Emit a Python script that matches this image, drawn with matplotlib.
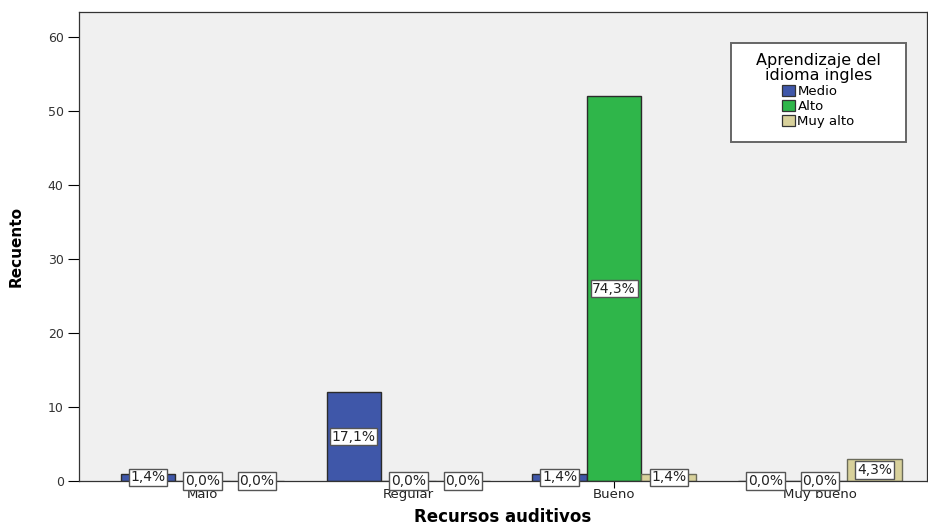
import matplotlib
matplotlib.use("Agg")
import matplotlib.pyplot as plt
from matplotlib.patches import Patch, Rectangle
import numpy as np

plt.rcParams['font.family'] = ['DejaVu Sans']

categories = ["Malo", "Regular", "Bueno", "Muy bueno"]
series_names = ["Medio", "Alto", "Muy alto"]
counts = {
    "Medio":    [1, 12, 1, 0],
    "Alto":     [0, 0, 52, 0],
    "Muy alto": [0, 0, 1, 3],
}
percent_labels = {
    "Medio":    ["1,4%", "17,1%", "1,4%", "0,0%"],
    "Alto":     ["0,0%", "0,0%", "74,3%", "0,0%"],
    "Muy alto": ["0,0%", "0,0%", "1,4%", "4,3%"],
}
colors = {"Medio": "#3F57A9", "Alto": "#2FB64A", "Muy alto": "#D8D19B"}
edges = {"Medio": "#2b2b2b", "Alto": "#2b2b2b", "Muy alto": "#6b6b5a"}

fig = plt.figure(figsize=(9.29, 5.27), dpi=100)
ax = fig.add_axes([0.085, 0.0873, 0.913, 0.89])
ax.set_facecolor("#F0F0F0")

x = np.arange(len(categories))
width = 0.265
offsets = [-width, 0, width]

for name, off in zip(series_names, offsets):
    vals = counts[name]
    ax.bar(x + off, vals, width=width, color=colors[name],
           edgecolor=edges[name], linewidth=1.0, zorder=2)
    for xi, v, lab in zip(x, vals, percent_labels[name]):
        ax.text(xi + off, v / 2, lab, ha="center", va="center", fontsize=10,
                color="#222222", zorder=4,
                bbox=dict(boxstyle="square,pad=0.12", facecolor="white",
                          edgecolor="#555555", linewidth=1.0))

ax.set_xlim(-0.6, 3.52)
ax.set_ylim(0, 63.4)
ax.set_yticks(range(0, 61, 10))
ax.set_xticks(x)
ax.set_xticklabels(categories, fontsize=9.5, color="#222222")
ax.tick_params(axis="y", labelsize=9, labelcolor="#333333", length=8,
               width=0.8, direction="out", pad=3)
ax.tick_params(axis="x", length=5, width=0.8, direction="out", pad=0)

for side in ["left", "bottom", "top", "right"]:
    ax.spines[side].set_color("#333333")
    ax.spines[side].set_linewidth(0.9)

ax.set_ylabel("Recuento", fontsize=11, fontweight="bold", labelpad=17)
ax.set_xlabel("Recursos auditivos", fontsize=12, fontweight="bold", labelpad=5)

# legend content without its own frame; a wider white panel sits behind it
handles = [Patch(facecolor=colors[n], edgecolor="#333333", linewidth=0.9)
           for n in series_names]
leg = ax.legend(handles, series_names, title="Aprendizaje del\nidioma ingles",
                loc="upper center", bbox_to_anchor=(0.8715, 0.912),
                fontsize=9.5, title_fontsize=11.5, frameon=False,
                handlelength=1.0, handleheight=0.95, handletextpad=0.2,
                labelspacing=0.15, borderpad=0.0, borderaxespad=0.0)
leg.get_title().set_multialignment("center")
leg.get_title().set_linespacing(0.95)
leg.set_zorder(6)

panel = Rectangle((0.769, 0.723), 0.206, 0.211, transform=ax.transAxes,
                  facecolor="white", edgecolor="#666666", linewidth=1.4,
                  zorder=5)
ax.add_patch(panel)

fig.savefig("out.png", dpi=100)
